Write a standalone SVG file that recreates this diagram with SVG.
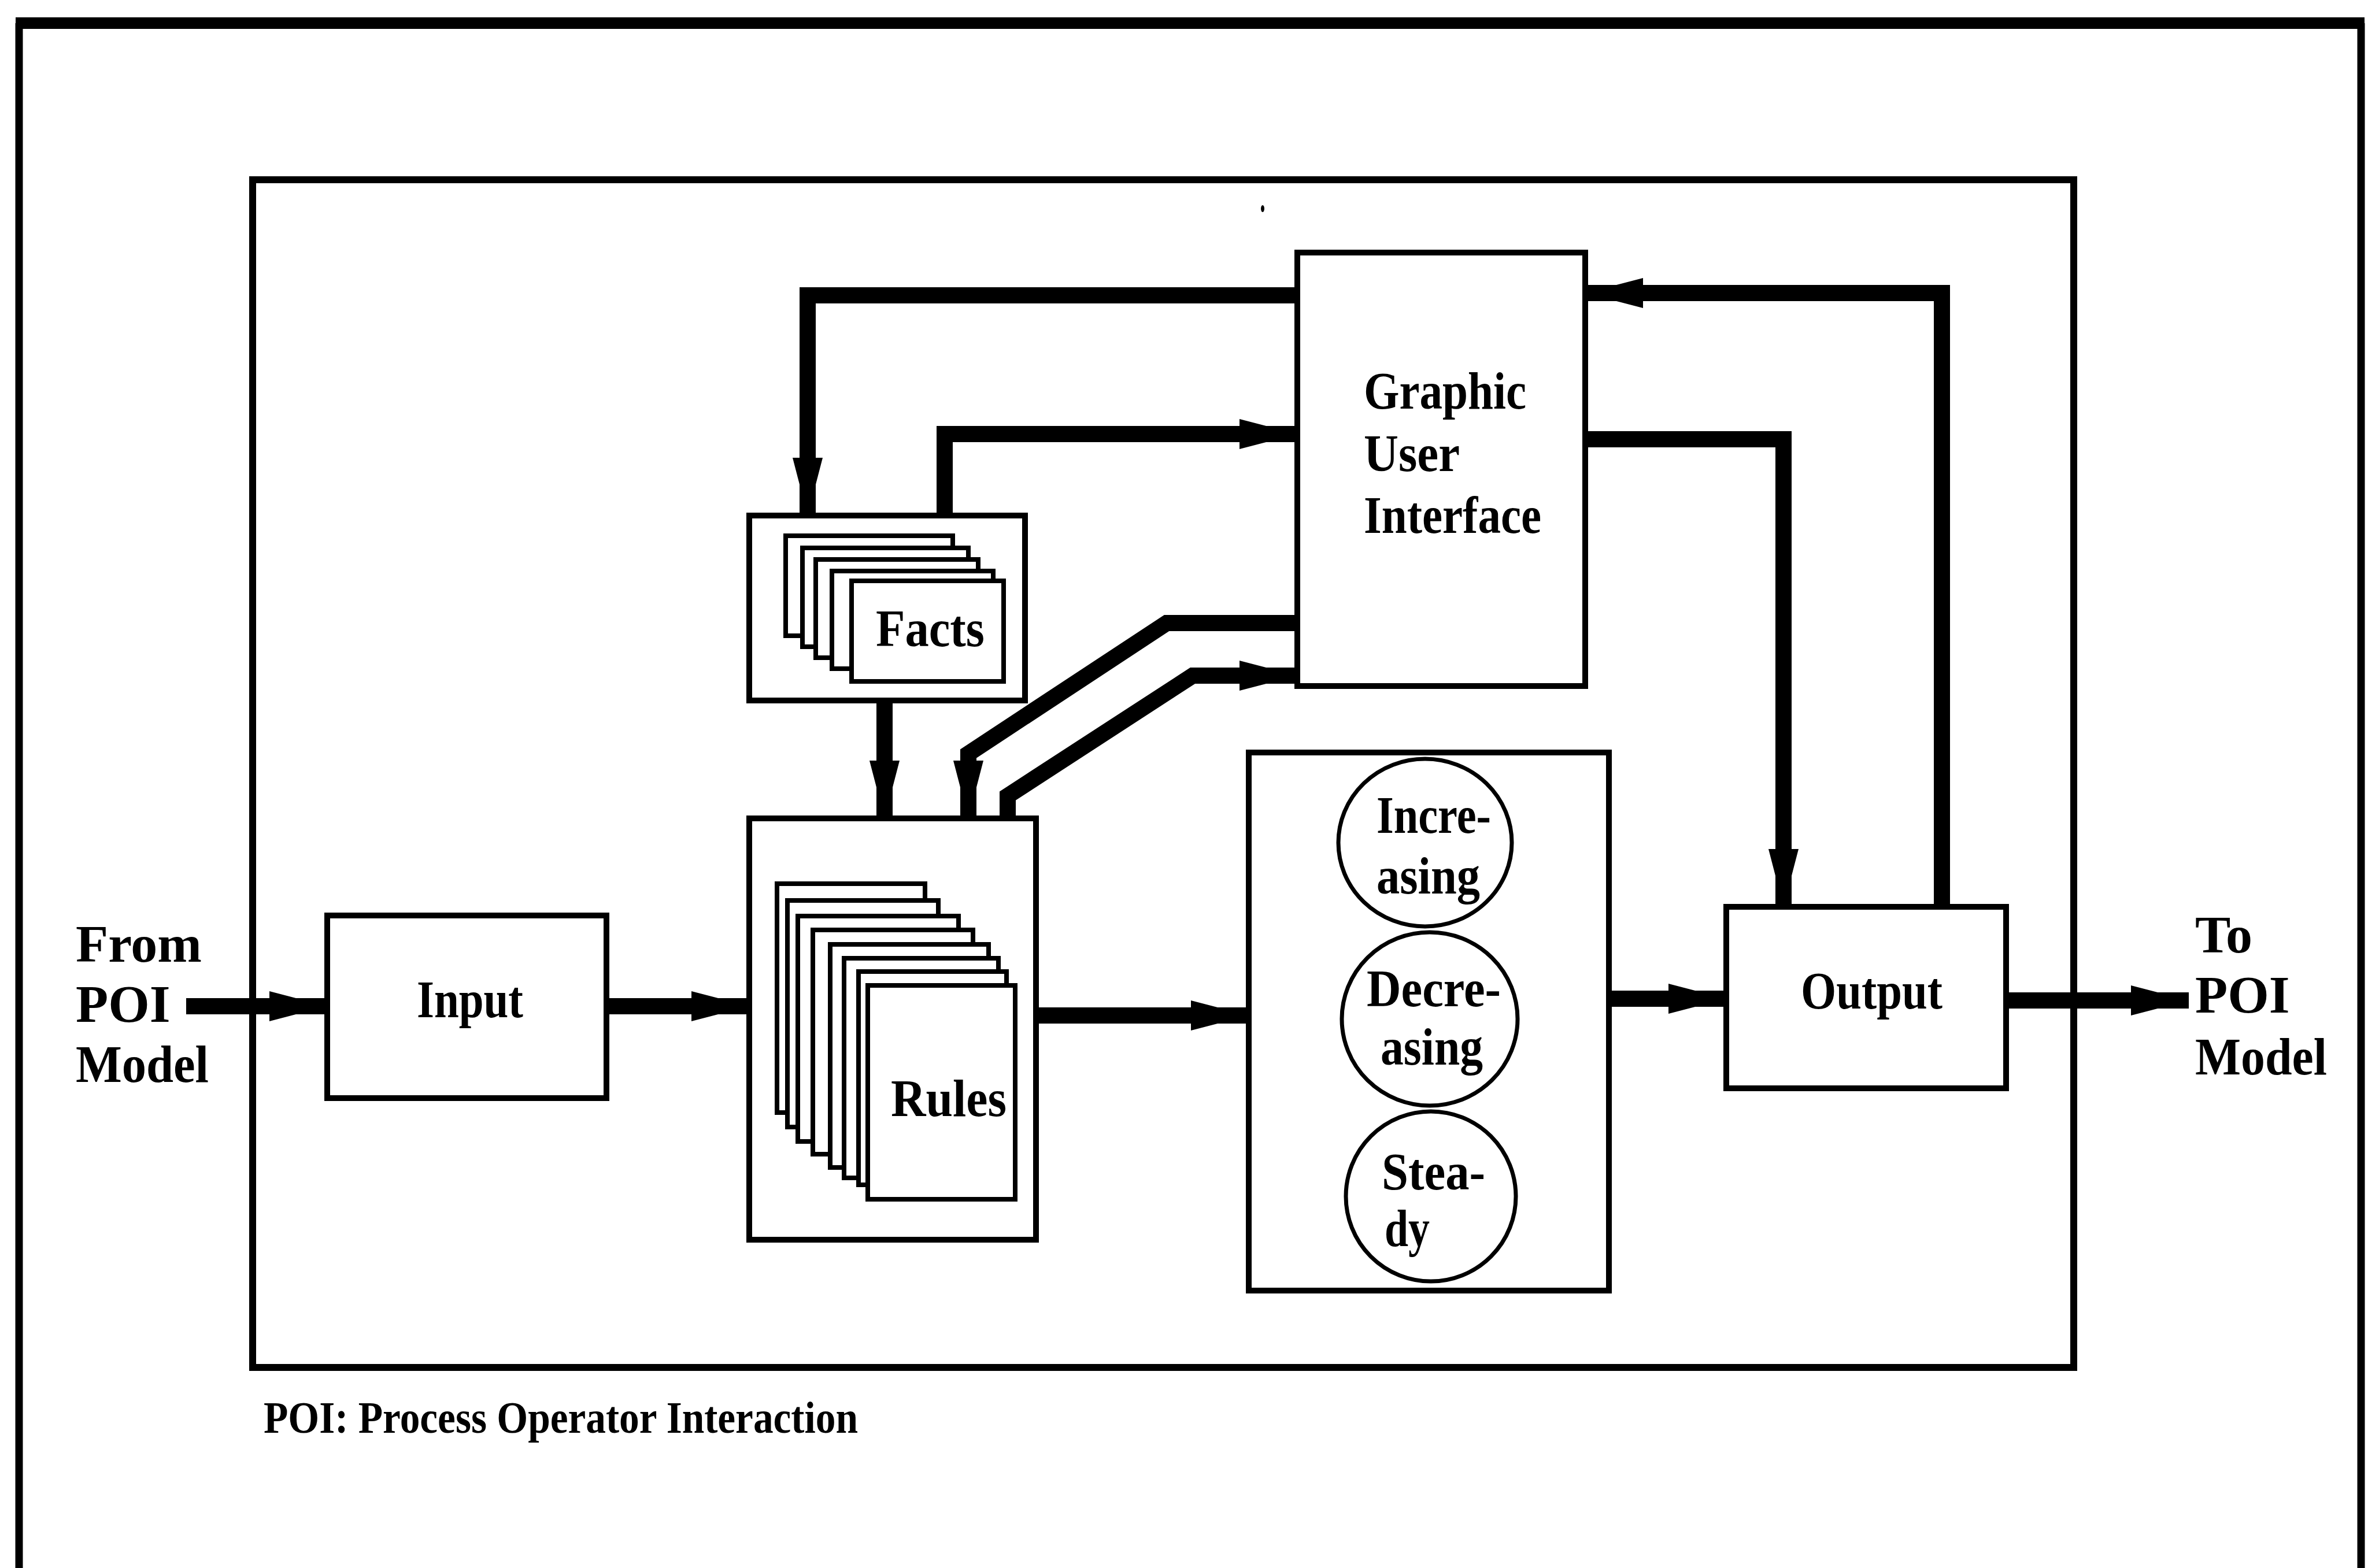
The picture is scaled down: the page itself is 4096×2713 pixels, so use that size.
<svg xmlns="http://www.w3.org/2000/svg" width="4096" height="2713" viewBox="0 0 4096 2713">
<style>
.frame{fill:none;stroke:#000;stroke-linejoin:miter}
.box{fill:#fff;stroke:#000;stroke-width:10}
.card{fill:#fff;stroke:#000;stroke-width:8}
.circ{fill:#fff;stroke:#000;stroke-width:7}
.conn{fill:none;stroke:#000;stroke-width:28;stroke-linejoin:miter;stroke-linecap:butt;marker-end:url(#ah)}
.t{font-family:"Liberation Serif","Times New Roman",serif;font-weight:bold;font-size:92px;fill:#000}
.cap{font-family:"Liberation Serif","Times New Roman",serif;font-weight:bold;font-size:78px;fill:#000}
</style>
<defs>
<marker id="ah" markerUnits="userSpaceOnUse" markerWidth="100" markerHeight="52" viewBox="0 0 100 52" refX="100" refY="26" orient="auto">
<path d="M0,0 L100,26 L0,52 Z" fill="#000"/>
</marker>
</defs>
<rect width="4096" height="2713" fill="#fff"/>
<g id="outer-frame">
<path class="frame" d="M33,2713 V40" stroke-width="13"/>
<path class="frame" d="M4084,2713 V40" stroke-width="13"/>
<path class="frame" d="M27,40 H4090" stroke-width="20"/>
</g>
<g id="inner-frame">
<rect class="frame" x="437" y="311" width="3150" height="2055" stroke-width="12"/>
<ellipse cx="2184" cy="361" rx="3" ry="6" fill="#000"/>
</g>
<g id="gui">
<rect class="box" x="2244" y="437" width="498" height="750"/>
<text class="t" x="2359" y="707" textLength="281" lengthAdjust="spacingAndGlyphs">Graphic</text>
<text class="t" x="2359" y="815" textLength="166" lengthAdjust="spacingAndGlyphs">User</text>
<text class="t" x="2359" y="922" textLength="307" lengthAdjust="spacingAndGlyphs">Interface</text>
</g>
<g id="facts">
<rect class="box" x="1296" y="892" width="477" height="320"/>
<rect class="card" x="1359" y="927" width="289" height="173"/>
<rect class="card" x="1388" y="948" width="287" height="171"/>
<rect class="card" x="1411" y="968" width="281" height="170"/>
<rect class="card" x="1439" y="988" width="279" height="169"/>
<rect class="card" x="1473" y="1005" width="263" height="174"/>
<text class="t" x="1515" y="1118" textLength="188" lengthAdjust="spacingAndGlyphs">Facts</text>
</g>
<g id="rules">
<rect class="box" x="1296" y="1416" width="496" height="729"/>
<rect class="card" x="1344" y="1529" width="256" height="396"/>
<rect class="card" x="1362" y="1558" width="261" height="392"/>
<rect class="card" x="1380" y="1585" width="278" height="390"/>
<rect class="card" x="1406" y="1609" width="277" height="388"/>
<rect class="card" x="1436" y="1634" width="274" height="386"/>
<rect class="card" x="1460" y="1658" width="267" height="380"/>
<rect class="card" x="1485" y="1681" width="256" height="369"/>
<rect class="card" x="1501" y="1705" width="255" height="370"/>
<text class="t" x="1541" y="1931" textLength="200" lengthAdjust="spacingAndGlyphs">Rules</text>
</g>
<g id="input">
<rect class="box" x="566" y="1584" width="483" height="316"/>
<text class="t" x="721" y="1760" textLength="184" lengthAdjust="spacingAndGlyphs">Input</text>
</g>
<g id="trend">
<rect class="box" x="2160" y="1302" width="623" height="931"/>
<ellipse class="circ" cx="2465" cy="1458" rx="150" ry="145"/>
<ellipse class="circ" cx="2473" cy="1763" rx="152" ry="150"/>
<ellipse class="circ" cx="2475" cy="2070" rx="147" ry="147"/>
<text class="t" x="2381" y="1441" textLength="198" lengthAdjust="spacingAndGlyphs">Incre-</text>
<text class="t" x="2381" y="1546" textLength="179" lengthAdjust="spacingAndGlyphs">asing</text>
<text class="t" x="2364" y="1741" textLength="232" lengthAdjust="spacingAndGlyphs">Decre-</text>
<text class="t" x="2388" y="1842" textLength="177" lengthAdjust="spacingAndGlyphs">asing</text>
<text class="t" x="2390" y="2058" textLength="179" lengthAdjust="spacingAndGlyphs">Stea-</text>
<text class="t" x="2395" y="2156" textLength="78" lengthAdjust="spacingAndGlyphs">dy</text>
</g>
<g id="output">
<rect class="box" x="2986" y="1569" width="484" height="314"/>
<text class="t" x="3115" y="1745" textLength="245" lengthAdjust="spacingAndGlyphs">Output</text>
</g>
<g id="from-label">
<text class="t" x="131" y="1664">From</text>
<text class="t" x="131" y="1768">POI</text>
<text class="t" x="131" y="1872" textLength="230" lengthAdjust="spacingAndGlyphs">Model</text>
</g>
<g id="to-label">
<text class="t" x="3797" y="1648">To</text>
<text class="t" x="3797" y="1752">POI</text>
<text class="t" x="3797" y="1859" textLength="228" lengthAdjust="spacingAndGlyphs">Model</text>
</g>
<g id="connectors">
<path class="conn" d="M322,1741 H566"/>
<path class="conn" d="M1049,1741 H1296"/>
<path class="conn" d="M1792,1757 H2160"/>
<path class="conn" d="M2783,1728 H2986"/>
<path class="conn" d="M3470,1731 H3786"/>
<path class="conn" d="M2244,511 H1397 V892"/>
<path class="conn" d="M1634,892 V751 H2244"/>
<path class="conn" d="M1530,1212 V1416"/>
<path class="conn" d="M2244,1078 H2018 L1675,1304 V1416"/>
<path class="conn" d="M1743,1416 V1377 L2063,1169 H2244"/>
<path class="conn" d="M2742,760 H3085 V1569"/>
<path class="conn" d="M3359,1569 V507 H2742"/>
</g>
<g id="caption">
<text class="cap" x="456" y="2479" textLength="1028" lengthAdjust="spacingAndGlyphs">POI: Process Operator Interaction</text>
</g>
</svg>
